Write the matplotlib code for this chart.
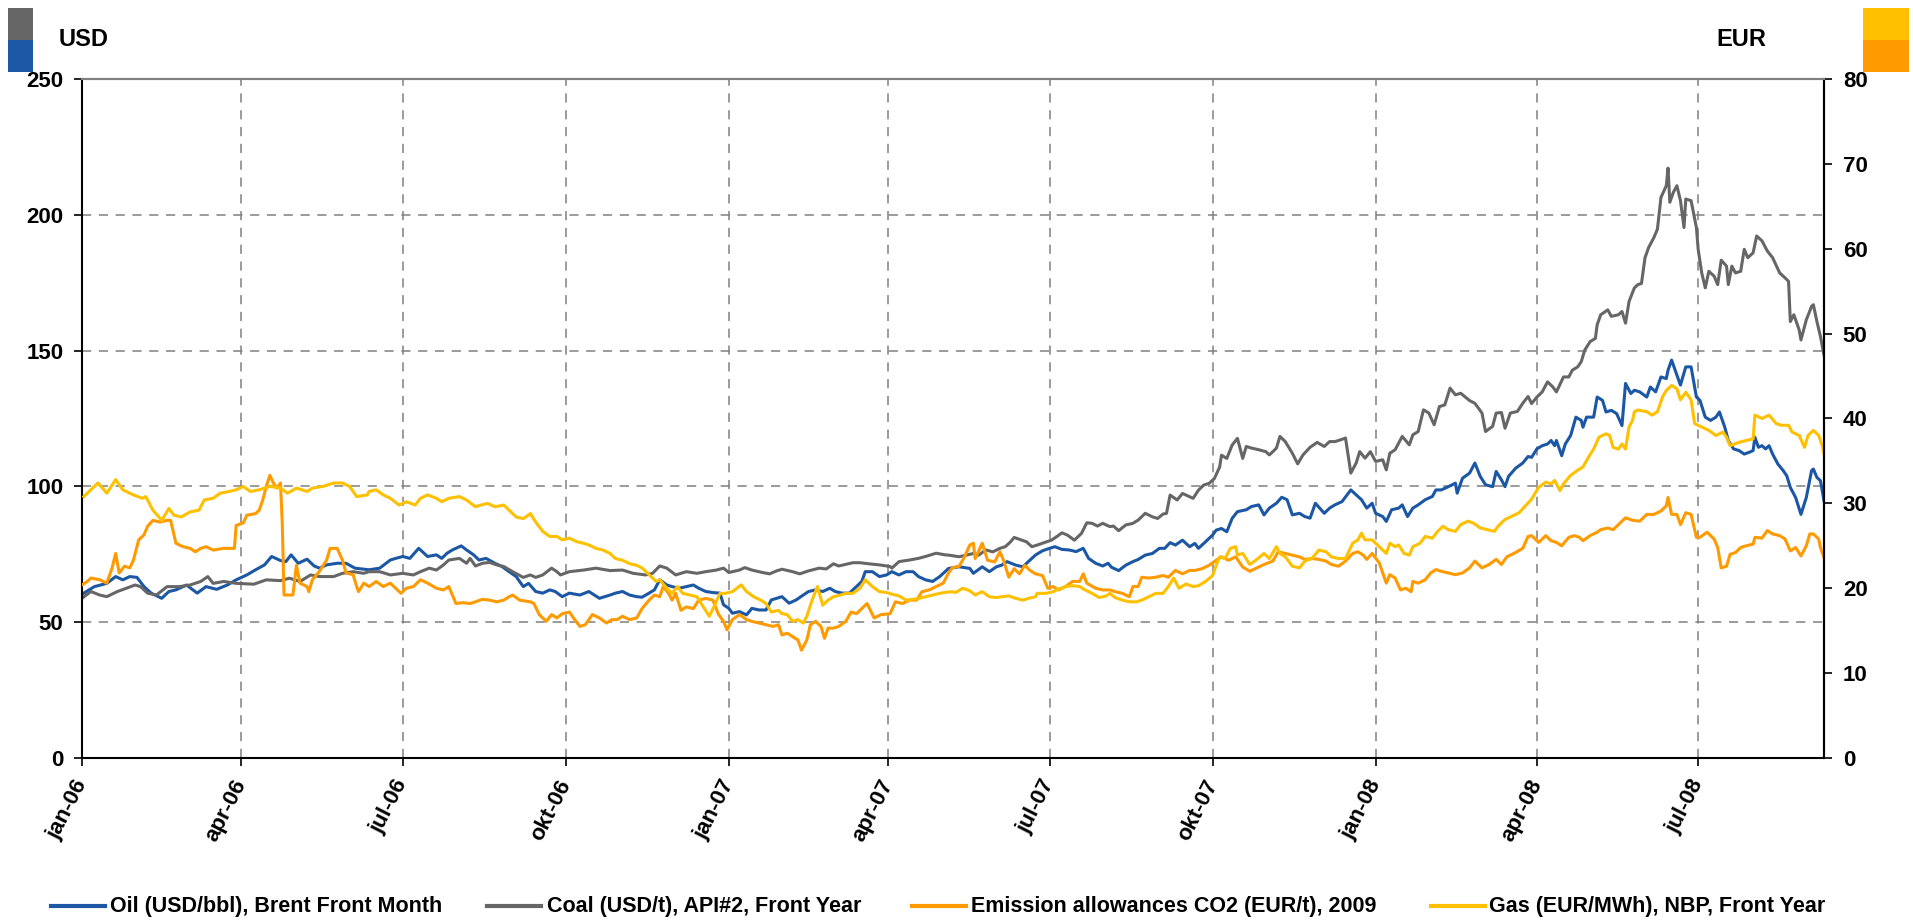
import pandas as pd
import matplotlib
matplotlib.use("Agg")
import matplotlib.pyplot as plt
from matplotlib.lines import Line2D
from matplotlib.patches import Rectangle

# Dagen sinds 1 jan 2006
START = pd.Timestamp("2006-01-01")

oil_day = [1, 7, 14, 19, 23, 27, 31, 35, 39, 45, 49, 53, 59, 65, 70, 76, 82, 87, 93, 98,
           103, 107, 112, 115, 118, 122, 127, 131, 134, 138, 144, 149, 154, 159, 162, 168,
           174, 177, 181, 185, 190, 195, 200, 203, 206, 209, 214, 217, 221, 224, 228, 233,
           237, 241, 245, 249, 252, 256, 260, 264, 267, 271, 275, 281, 286, 292, 298, 301,
           305, 309, 313, 316, 320, 323, 326, 330, 333, 337, 341, 345, 348, 352, 356, 360,
           362, 365, 367, 371, 375, 378, 382, 386, 389, 392, 395, 399, 403, 407, 410, 414,
           418, 422, 425, 429, 433, 437, 440, 442, 446, 450, 454, 457, 461, 465, 469, 472,
           476, 480, 484, 487, 489, 495, 501, 503, 508, 512, 516, 519, 522, 527, 531, 534,
           538, 542, 546, 549, 553, 557, 561, 565, 568, 572, 576, 579, 581, 585, 589, 593,
           596, 600, 604, 608, 611, 614, 617, 621, 625, 628, 630, 634, 638, 640, 643, 646,
           649, 652, 657, 660, 664, 667, 670, 674, 677, 680, 683, 687, 690, 693, 696, 701,
           704, 707, 711, 716, 719, 722, 725, 728, 730, 734, 736, 739, 743, 745, 748, 751,
           754, 758, 762, 764, 767, 771, 775, 776, 779, 783, 786, 789, 792, 796, 798, 801,
           803, 805, 809, 813, 816, 818, 821, 824, 827, 829, 831, 832, 835, 837, 840, 843,
           846, 847, 849, 853, 855, 858, 860, 863, 866, 869, 871, 874, 876, 879, 883, 885,
           888, 891, 894, 895, 897, 899, 902, 905, 908, 911, 913, 916, 919, 922, 924, 927,
           929, 932, 935, 938, 941, 943, 944, 946, 948, 950, 952, 954, 957, 960, 962, 964,
           967, 970, 973, 976, 977, 979, 981, 983]
oil_usd = [60.7, 63.1, 64.3, 66.8, 65.6, 66.8, 66.5, 63.1, 60.7, 58.8, 61.3, 61.9, 63.7, 60.7, 63.1, 62.1, 63.7, 65.6, 67.4, 69.3,
           71.1, 74.2, 72.7, 72.3, 74.8, 71.7, 73.2, 70.7, 69.9, 71.1, 71.7, 71.7, 69.9, 69.5, 69.3, 69.9,
           72.9, 73.5, 74.2, 73.5, 77.2, 74.2, 74.8, 73.5, 75.4, 76.6, 78.1, 76.6, 74.8, 72.9, 73.5, 71.7,
           70.5, 68.6, 66.8, 63.1, 64.3, 61.3, 60.7, 61.9, 61.3, 59.4, 60.7, 60.0, 61.3, 58.8, 60.0, 60.7,
           61.3, 60.0, 59.4, 59.2, 60.7, 61.9, 65.6, 63.7, 63.1, 62.5, 63.1, 63.7, 62.5, 61.3, 60.9, 60.7,
           56.4, 55.1, 53.3, 53.9, 52.7, 55.1, 54.5, 54.5, 58.2, 58.8, 59.4, 57.0, 58.2, 60.0, 61.3, 61.9,
           61.3, 62.5, 61.3, 60.7, 60.7, 63.1, 65.0, 68.6, 68.6, 66.8, 67.4, 68.6, 67.4, 68.6, 68.6, 66.8,
           65.6, 65.0, 66.8, 68.6, 69.8, 70.4, 69.8, 68.0, 70.4, 68.6, 70.4, 71.0, 72.3, 71.0, 70.4, 72.3,
           74.7, 76.3, 77.2, 77.8, 76.8, 76.6, 76.0, 77.2, 73.5, 71.7, 70.7, 71.7, 70.2, 69.0, 71.0, 72.3,
           73.1, 74.7, 75.3, 77.2, 77.2, 79.3, 78.4, 80.2, 77.8, 79.0, 77.2, 79.6, 82.1, 83.9, 84.5, 83.3,
           88.2, 90.7, 91.4, 92.6, 93.2, 89.5, 92.0, 93.8, 96.0, 95.1, 89.5, 90.1, 88.9, 88.3, 93.8, 90.1,
           92.0, 93.2, 94.4, 98.7, 96.9, 95.1, 92.0, 93.8, 90.1, 88.9, 87.1, 91.4, 92.0, 93.2, 88.9, 92.0,
           93.2, 95.1, 96.3, 98.7, 98.7, 99.9, 101.2, 97.5, 103.0, 104.9, 108.6, 103.7, 100.6, 99.9, 105.5, 102.4,
           99.9, 103.7, 106.7, 108.6, 111.0, 110.7, 113.8, 115.0, 115.6, 116.9, 115.0, 116.9, 111.3, 115.6, 118.7, 125.5,
           124.3, 121.8, 125.5, 125.5, 132.9, 131.7, 127.4, 128.0, 126.8, 122.4, 137.9, 134.2, 135.4, 134.8, 132.9, 136.6,
           134.8, 140.3, 139.7, 142.8, 146.5, 142.8, 137.3, 144.0, 144.0, 132.9, 131.7, 125.5, 124.3, 125.5, 127.4, 121.8,
           116.9, 113.8, 113.2, 111.9, 112.6, 113.2, 118.1, 114.4, 115.0, 113.8, 115.0, 111.9, 108.2, 105.8, 103.9, 99.6,
           95.9, 89.7, 95.9, 105.8, 106.4, 103.3, 102.1, 94.7]

coal_day = [0, 5, 10, 14, 20, 25, 30, 33, 37, 42, 48, 55, 61, 67, 71, 74, 80, 87, 97, 104,
            112, 117, 123, 129, 134, 142, 147, 153, 159, 162, 168, 174, 181, 187, 191, 196, 200, 204,
            207, 213, 217, 219, 222, 226, 230, 234, 238, 243, 249, 253, 256, 260, 265, 268, 270, 275,
            283, 290, 298, 305, 311, 318, 322, 326, 330, 335, 341, 347, 352, 358, 362, 365, 371, 374,
            378, 384, 388, 392, 395, 401, 405, 410, 416, 420, 424, 427, 431, 435, 439, 444, 450, 456,
            457, 461, 467, 472, 476, 482, 487, 489, 495, 499, 503, 506, 510, 514, 518, 521, 524, 526,
            529, 533, 536, 539, 543, 547, 550, 553, 556, 560, 564, 567, 570, 573, 576, 580, 582, 585,
            589, 593, 596, 600, 604, 607, 610, 612, 614, 618, 621, 625, 627, 630, 633, 636, 639, 642,
            643, 646, 649, 652, 655, 657, 660, 664, 668, 670, 672, 674, 676, 679, 683, 686, 689, 693,
            697, 701, 704, 707, 710, 713, 716, 719, 721, 724, 727, 730, 734, 736, 738, 741, 745, 749,
            751, 754, 757, 760, 763, 766, 769, 772, 775, 778, 783, 786, 790, 792, 796, 798, 801, 803,
            806, 810, 813, 816, 818, 821, 824, 827, 830, 832, 836, 839, 841, 844, 846, 848, 851, 854,
            855, 857, 861, 863, 867, 869, 871, 873, 876, 878, 880, 882, 884, 887, 889, 891, 894, 895,
            896, 898, 900, 902, 904, 905, 908, 911, 912, 914, 916, 918, 921, 923, 925, 928, 929, 931,
            933, 936, 938, 940, 943, 945, 948, 951, 954, 958, 961, 963, 964, 966, 969, 970, 973, 976,
            977, 979, 981, 983]
coal_usd = [58.8, 61.3, 60.0, 59.4, 61.3, 62.5, 63.7, 63.1, 60.7, 60.0, 63.1, 63.1, 63.7, 65.0, 66.8, 64.3, 65.0, 64.3, 64.0, 65.6,
            65.3, 66.2, 65.0, 67.4, 66.8, 66.8, 68.0, 68.6, 68.0, 68.6, 68.6, 67.4, 68.0, 67.4, 68.6, 69.9, 69.2, 71.1,
            72.9, 73.5, 71.7, 73.5, 70.7, 71.7, 72.0, 71.1, 70.5, 68.6, 66.5, 67.4, 66.5, 67.4, 69.9, 68.6, 67.4, 68.6,
            69.2, 69.9, 69.0, 69.2, 68.0, 67.4, 68.0, 70.7, 69.9, 67.4, 68.6, 68.0, 68.6, 69.2, 69.9, 68.3, 69.2, 70.1,
            69.2, 68.3, 67.8, 68.9, 69.5, 68.6, 67.8, 68.9, 69.9, 69.6, 71.5, 70.7, 71.3, 71.9, 71.9, 71.5, 71.1, 70.5,
            69.9, 72.3, 72.9, 73.5, 74.2, 75.4, 74.8, 74.7, 74.1, 74.7, 75.3, 74.7, 76.6, 75.9, 77.2, 77.8, 79.6, 81.2,
            80.5, 79.6, 77.8, 78.4, 79.3, 80.2, 81.5, 82.9, 82.1, 80.2, 82.7, 86.6, 86.4, 85.4, 86.4, 85.2, 85.4, 83.7,
            85.8, 86.4, 87.6, 90.1, 88.8, 88.2, 89.8, 90.1, 96.8, 95.0, 97.4, 96.2, 95.6, 98.6, 100.5, 101.1, 102.9, 107.2,
            111.5, 110.3, 115.2, 117.7, 110.3, 114.7, 114.1, 113.5, 112.8, 111.6, 112.8, 114.1, 118.4, 116.5, 112.2, 108.3, 111.6, 114.4,
            116.2, 114.7, 116.5, 116.5, 117.1, 117.8, 104.9, 108.6, 112.8, 110.4, 112.8, 109.2, 109.8, 106.1, 112.2, 113.5, 118.4, 115.3,
            119.0, 120.2, 128.2, 127.0, 122.7, 129.4, 130.0, 136.2, 133.7, 134.3, 131.6, 130.6, 127.0, 120.2, 122.1, 127.0, 127.2, 121.4,
            127.0, 127.6, 130.6, 133.1, 130.5, 132.9, 134.8, 138.5, 136.6, 134.8, 140.3, 140.3, 142.8, 144.0, 145.9, 150.2, 153.3, 154.5,
            159.5, 163.2, 165.0, 162.6, 163.2, 164.4, 160.1, 168.1, 173.1, 174.3, 174.7, 184.2, 187.9, 191.6, 194.7, 206.4, 210.7, 217.2,
            204.6, 208.3, 210.7, 205.2, 195.3, 205.8, 205.2, 195.3, 187.3, 178.6, 173.1, 179.2, 177.4, 174.3, 183.3, 181.1, 174.3, 181.1,
            178.6, 179.2, 187.3, 184.2, 186.0, 192.2, 190.4, 186.7, 184.2, 178.6, 176.8, 175.5, 160.7, 163.2, 157.6, 153.9, 161.3, 166.3,
            166.9, 160.7, 155.2, 148.4]

co2_day = [0, 3, 5, 10, 14, 17, 19, 21, 24, 27, 29, 32, 35, 37, 40, 44, 48, 50, 53, 57,
           61, 64, 67, 70, 74, 80, 86, 87, 91, 93, 98, 100, 102, 104, 106, 108, 110, 112, 113, 114,
           119, 121, 123, 127, 128, 130, 134, 138, 140, 144, 147, 149, 153, 155, 156, 159, 162, 166,
           170, 174, 176, 180, 183, 187, 191, 195, 200, 204, 207, 209, 211, 215, 219, 222, 226, 230,
           234, 238, 241, 243, 247, 253, 255, 258, 262, 265, 268, 271, 275, 278, 281, 284, 288, 292,
           296, 299, 302, 305, 309, 313, 316, 320, 323, 326, 328, 331, 333, 335, 338, 341, 345, 348,
           352, 356, 359, 362, 364, 367, 371, 375, 378, 382, 386, 390, 393, 395, 398, 401, 404, 406,
           409, 411, 414, 417, 419, 421, 424, 427, 431, 434, 437, 440, 443, 447, 451, 456, 459, 463,
           467, 471, 474, 478, 482, 486, 489, 491, 495, 498, 501, 503, 504, 508, 511, 515, 518, 520,
           523, 526, 529, 532, 535, 538, 542, 545, 548, 551, 555, 559, 563, 565, 567, 572, 576, 580,
           583, 587, 591, 593, 596, 598, 602, 606, 610, 613, 617, 621, 625, 628, 632, 636, 640, 643,
           647, 651, 655, 659, 663, 667, 672, 675, 679, 683, 687, 690, 694, 698, 702, 705, 709, 713,
           717, 720, 723, 725, 728, 732, 736, 738, 741, 744, 747, 750, 751, 754, 758, 761, 764, 767,
           771, 775, 779, 783, 786, 790, 794, 798, 801, 804, 808, 813, 816, 818, 822, 826, 829, 832,
           835, 839, 842, 845, 847, 851, 855, 857, 861, 864, 867, 871, 875, 879, 883, 887, 891, 894,
           895, 897, 900, 902, 905, 908, 911, 913, 917, 921, 923, 925, 928, 930, 933, 936, 939, 943,
           944, 948, 951, 954, 958, 961, 964, 967, 970, 973, 975, 977, 980, 981, 983]
co2_eur = [20.4, 20.8, 21.2, 21.0, 20.6, 22.4, 24.1, 21.8, 22.6, 22.4, 23.3, 25.7, 26.3, 27.3, 28.0, 27.8, 28.0, 28.0, 25.3, 24.9,
           24.7, 24.3, 24.7, 24.9, 24.5, 24.7, 24.7, 27.4, 27.7, 28.6, 28.8, 29.2, 30.4, 32.0, 33.3, 32.4, 31.8, 32.4, 27.7, 19.2,
           19.2, 22.7, 20.6, 20.2, 19.6, 21.0, 22.0, 23.3, 24.7, 24.7, 23.3, 21.8, 21.6, 20.2, 19.6, 20.6, 20.2, 20.8,
           20.2, 20.6, 20.2, 19.4, 20.0, 20.2, 21.0, 20.6, 20.0, 19.8, 20.2, 19.2, 18.2, 18.3, 18.2, 18.4, 18.7, 18.6,
           18.4, 18.6, 19.0, 19.2, 18.6, 18.4, 18.2, 16.9, 16.1, 16.9, 16.5, 17.0, 17.2, 16.3, 15.5, 15.7, 16.9, 16.5,
           15.9, 16.3, 16.3, 16.7, 16.3, 16.5, 17.6, 18.6, 19.2, 19.0, 20.2, 19.4, 18.6, 19.4, 17.4, 17.8, 17.6, 18.6,
           18.8, 18.6, 17.0, 16.1, 15.1, 16.3, 16.9, 16.3, 16.1, 15.9, 15.7, 15.5, 15.7, 14.5, 14.7, 14.3, 13.9, 12.7,
           13.9, 15.7, 16.1, 15.5, 14.1, 15.3, 15.3, 15.5, 16.1, 17.2, 17.0, 17.6, 18.2, 16.5, 16.9, 17.0, 18.4, 18.2,
           18.6, 18.6, 19.6, 19.8, 20.2, 20.6, 21.8, 22.4, 22.6, 23.7, 25.1, 25.3, 23.5, 25.3, 23.3, 23.1, 24.3, 23.3,
           21.3, 22.3, 21.7, 22.7, 22.1, 21.7, 21.5, 20.0, 20.2, 19.8, 20.2, 20.8, 20.8, 21.7, 20.6, 20.0, 19.8, 19.8,
           19.6, 19.4, 19.0, 20.2, 20.2, 21.3, 21.2, 21.3, 21.5, 21.3, 22.1, 21.7, 22.1, 22.1, 22.3, 22.7, 23.3, 23.7,
           23.3, 23.7, 22.5, 22.0, 22.4, 22.8, 23.2, 24.3, 24.1, 23.9, 23.7, 23.4, 23.5, 23.4, 23.2, 22.8, 22.6, 23.2,
           24.1, 24.3, 23.9, 23.4, 24.1, 23.0, 20.6, 21.6, 21.2, 19.8, 20.0, 19.6, 20.8, 20.6, 21.0, 21.8, 22.2, 22.0,
           21.8, 21.6, 21.8, 22.4, 23.2, 22.4, 22.8, 23.4, 22.8, 23.7, 24.1, 24.7, 26.1, 26.2, 25.4, 26.2, 25.6, 25.4,
           25.0, 26.0, 26.2, 26.0, 25.6, 26.2, 26.6, 26.9, 27.1, 26.9, 27.5, 28.3, 28.0, 27.9, 28.7, 28.7, 29.1, 29.7,
           30.7, 28.7, 28.7, 27.5, 28.9, 28.7, 26.0, 26.0, 26.6, 25.8, 24.8, 22.4, 22.6, 24.0, 24.2, 24.8, 25.0, 25.2,
           26.0, 25.9, 26.8, 26.4, 26.2, 25.8, 24.4, 24.8, 23.8, 25.0, 26.4, 26.4, 25.8, 24.8, 23.6]

gas_day = [1, 5, 9, 14, 19, 23, 29, 34, 36, 40, 45, 49, 52, 56, 61, 66, 69, 74, 78, 83,
           87, 91, 95, 100, 106, 112, 116, 121, 127, 130, 136, 142, 147, 151, 155, 161, 162, 166,
           170, 174, 179, 183, 188, 191, 195, 200, 203, 207, 213, 217, 222, 225, 229, 233, 238, 241,
           245, 249, 253, 256, 260, 264, 268, 271, 275, 279, 283, 286, 290, 294, 298, 301, 305, 309,
           313, 316, 320, 324, 326, 330, 333, 336, 339, 343, 347, 350, 354, 357, 360, 363, 367, 372,
           375, 379, 383, 386, 389, 393, 395, 398, 401, 404, 407, 409, 412, 415, 418, 421, 424, 428,
           431, 435, 439, 442, 446, 450, 454, 457, 461, 465, 469, 472, 476, 480, 484, 487, 491, 493,
           497, 501, 504, 508, 512, 516, 519, 523, 527, 531, 534, 538, 539, 544, 548, 551, 555, 559,
           563, 566, 570, 574, 578, 580, 583, 587, 591, 595, 598, 602, 606, 610, 613, 616, 619, 623,
           627, 630, 634, 638, 640, 642, 645, 648, 651, 652, 655, 659, 663, 667, 670, 674, 676, 679,
           683, 687, 690, 694, 698, 702, 705, 709, 713, 717, 720, 722, 724, 728, 732, 736, 738, 741,
           743, 746, 749, 751, 755, 758, 762, 765, 768, 771, 775, 778, 782, 785, 789, 793, 797, 799,
           803, 807, 811, 814, 818, 822, 826, 829, 831, 834, 836, 840, 844, 847, 850, 853, 856, 860,
           862, 864, 867, 869, 871, 873, 875, 876, 878, 883, 886, 889, 892, 894, 897, 900, 902, 905,
           908, 910, 914, 918, 922, 926, 928, 930, 935, 939, 943, 944, 948, 952, 956, 959, 963, 965,
           969, 972, 974, 977, 980, 982, 983]
gas_eur = [30.8, 31.6, 32.4, 31.2, 32.8, 31.6, 31.0, 30.6, 30.8, 29.2, 28.0, 29.4, 28.6, 28.4, 29.0, 29.2, 30.4, 30.6, 31.2, 31.4,
           31.6, 32.0, 31.4, 31.6, 32.0, 31.8, 31.2, 31.8, 31.4, 31.8, 32.0, 32.4, 32.4, 32.0, 30.8, 31.0, 31.4, 31.6,
           31.0, 30.6, 29.8, 30.2, 29.8, 30.6, 31.0, 30.6, 30.2, 30.6, 30.8, 30.4, 29.6, 29.8, 30.0, 29.6, 29.8, 29.2,
           28.4, 28.2, 28.8, 27.8, 26.7, 26.1, 26.1, 25.7, 25.9, 25.5, 25.3, 25.1, 24.7, 24.5, 24.1, 23.5, 23.3, 22.9,
           22.7, 22.4, 21.6, 20.8, 21.0, 20.0, 19.4, 20.2, 19.4, 19.2, 19.0, 18.0, 16.7, 18.0, 19.4, 19.4, 19.6, 20.4,
           19.6, 19.0, 18.6, 18.2, 17.2, 17.4, 17.0, 16.9, 16.1, 16.3, 15.9, 16.7, 18.6, 20.2, 18.0, 18.6, 19.0, 19.2,
           19.4, 19.4, 20.0, 21.0, 20.2, 19.6, 19.5, 19.3, 19.1, 18.6, 18.7, 18.8, 19.0, 19.2, 19.4, 19.5, 19.6, 19.5,
           20.0, 19.7, 19.2, 19.6, 19.0, 18.9, 19.0, 19.1, 18.8, 18.6, 18.8, 19.0, 19.4, 19.4, 19.6, 19.9, 20.2, 20.3,
           20.2, 19.8, 19.4, 18.9, 19.1, 19.4, 18.9, 18.6, 18.4, 18.4, 18.6, 19.0, 19.4, 19.4, 20.2, 21.2, 20.0, 20.5,
           20.2, 20.3, 20.8, 21.5, 22.7, 23.7, 23.5, 24.7, 24.9, 23.9, 24.1, 22.8, 23.4, 24.1, 23.5, 24.9, 24.1, 23.7,
           22.6, 22.4, 23.2, 23.5, 24.5, 24.3, 23.7, 23.5, 23.5, 25.3, 25.7, 26.5, 25.7, 25.7, 24.9, 24.1, 25.3, 24.9,
           25.1, 24.1, 23.9, 24.9, 25.3, 26.1, 25.9, 26.7, 27.3, 26.9, 26.7, 27.5, 27.9, 27.7, 27.1, 26.9, 26.7, 27.3,
           28.1, 28.5, 28.9, 29.6, 30.5, 31.9, 32.5, 32.3, 32.7, 31.5, 32.3, 33.3, 33.9, 34.3, 35.4, 36.4, 37.8, 38.2,
           38.0, 36.6, 36.4, 37.0, 36.4, 39.0, 39.8, 40.8, 41.0, 40.8, 40.4, 40.8, 42.6, 43.3, 43.9, 43.5, 42.2, 43.1,
           42.2, 39.4, 39.0, 38.6, 38.0, 38.4, 37.8, 36.8, 37.2, 37.4, 37.6, 40.4, 40.0, 40.4, 39.4, 39.2, 39.2, 38.4,
           38.0, 36.6, 38.0, 38.6, 38.0, 36.8, 35.8]

quarter_dates = ["2006-01-01", "2006-04-01", "2006-07-01", "2006-10-01", "2007-01-01",
                 "2007-04-01", "2007-07-01", "2007-10-01", "2008-01-01", "2008-04-01", "2008-07-01"]
quarter_labels = ["jan-06", "apr-06", "jul-06", "okt-06", "jan-07",
                  "apr-07", "jul-07", "okt-07", "jan-08", "apr-08", "jul-08"]
end_day = 983

series_labels = ["Oil (USD/bbl), Brent Front Month", "Coal (USD/t), API#2, Front Year",
                 "Emission allowances CO2 (EUR/t), 2009", "Gas (EUR/MWh), NBP, Front Year"]
colors = ["#1B57A5", "#666666", "#FF9A00", "#FFC000"]


def to_dates(days):
    return START + pd.to_timedelta(days, unit="D")


plt.rcParams["font.family"] = ["Liberation Sans", "DejaVu Sans"]
plt.rcParams["font.weight"] = "bold"

W, H = 1913, 921
fig = plt.figure(figsize=(W / 100, H / 100), dpi=100)
ax = fig.add_axes([82 / W, 1 - 758 / H, (1824 - 82) / W, (758 - 79) / H])
ax2 = ax.twinx()

lw = 2.2
ax.plot(to_dates(oil_day), oil_usd, color=colors[0], lw=lw)
ax.plot(to_dates(coal_day), coal_usd, color=colors[1], lw=lw)
ax2.plot(to_dates(co2_day), co2_eur, color=colors[2], lw=lw)
ax2.plot(to_dates(gas_day), gas_eur, color=colors[3], lw=lw)

ax.set_xlim(START, to_dates([end_day])[0])
ax.set_ylim(0, 250)
ax2.set_ylim(0, 80)
ax.set_yticks(range(0, 251, 50))
ax2.set_yticks(range(0, 81, 10))

ax.set_xticks(pd.to_datetime(quarter_dates))
ax.set_xticklabels(quarter_labels, rotation=63, ha="right", va="center",
                   rotation_mode="anchor")

grid_style = dict(color="#808080", lw=1.1, ls=(0, (6, 5)))
ax.grid(True, axis="both", **grid_style)
ax.set_axisbelow(True)

ax.tick_params(axis="y", direction="out", length=5.5, width=1.2, pad=8, labelsize=16)
ax.tick_params(axis="x", direction="out", length=5.5, width=1.2, pad=11, labelsize=16)
ax2.tick_params(axis="y", direction="out", length=5.5, width=1.2, pad=8, labelsize=16)
for lab in ax.get_xticklabels() + ax.get_yticklabels() + ax2.get_yticklabels():
    lab.set_fontweight("bold")

for a in (ax, ax2):
    a.spines["top"].set_color("#808080")
    a.spines["top"].set_linewidth(1.5)
    a.spines["left"].set_linewidth(1.5)
    a.spines["right"].set_linewidth(1.5)
    a.spines["bottom"].set_linewidth(1.5)
ax2.spines["left"].set_visible(False)
ax2.spines["bottom"].set_visible(False)

# Eenheden met kleurblokjes bovenaan
fig.text(59 / W, 1 - 40 / H, "USD", ha="left", va="center", fontsize=17, fontweight="bold")
fig.text(1716 / W, 1 - 40 / H, "EUR", ha="left", va="center", fontsize=17, fontweight="bold")
blocks = [(8, 8, 25, colors[1]), (8, 40, 25, colors[0]),
          (1863, 8, 46, colors[3]), (1863, 40, 46, colors[2])]
for x, y, w, c in blocks:
    fig.add_artist(Rectangle((x / W, 1 - (y + 32) / H), w / W, 32 / H,
                             transform=fig.transFigure, color=c, lw=0))

# Legenda onderaan
leg_y = 1 - 906 / H
handle_x = [51, 487, 912, 1431]
text_x = [110, 547, 971, 1489]
for hx, tx, c, lab in zip(handle_x, text_x, colors, series_labels):
    fig.add_artist(Line2D([hx / W, (hx + 54) / W], [leg_y, leg_y],
                          transform=fig.transFigure, color=c, lw=3))
    fig.text(tx / W, leg_y, lab, ha="left", va="center", fontsize=15.5, fontweight="bold")

fig.savefig("out.png", dpi=100)
